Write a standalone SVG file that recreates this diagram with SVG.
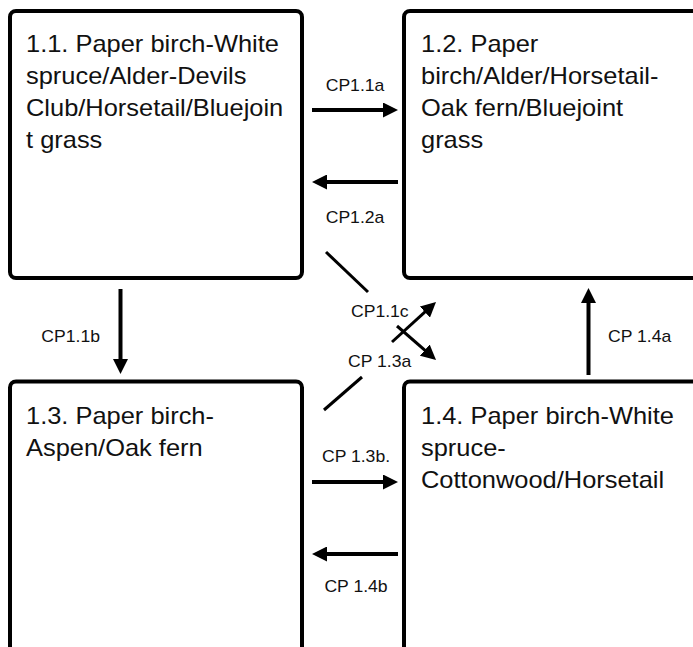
<svg xmlns="http://www.w3.org/2000/svg" width="693" height="647" viewBox="0 0 693 647">
<style>
.box{fill:#fff;stroke:#000;stroke-width:4}
.bt{font-family:"Liberation Sans",Arial,sans-serif;font-size:24px;fill:#111}
.lb{font-family:"Liberation Sans",Arial,sans-serif;font-size:16px;fill:#111}
.cn{stroke:#000;stroke-width:4;fill:none}
.dg{stroke:#000;stroke-width:3;fill:none}
</style>
<defs>
<marker id="ah" viewBox="0 0 15 15" markerWidth="15" markerHeight="15" markerUnits="userSpaceOnUse" refX="5" refY="7.5" orient="auto">
<path d="M0,0 L15,7.5 L0,15 z" fill="#000"/>
</marker>
</defs>
<rect width="693" height="647" fill="#fff"/>
<g id="n11">
<rect class="box" x="10" y="11" width="292" height="267" rx="6"/>
<g transform="translate(26,0) scale(1.06,1)" class="bt">
<text x="0" y="52">1.1. Paper birch-White</text>
<text x="0" y="84">spruce/Alder-Devils</text>
<text x="0" y="116">Club/Horsetail/Bluejoin</text>
<text x="0" y="148">t grass</text>
</g>
</g>
<g id="n12">
<rect class="box" x="404" y="11" width="300" height="267" rx="6"/>
<g transform="translate(421,0) scale(1.06,1)" class="bt">
<text x="0" y="52">1.2. Paper</text>
<text x="0" y="84">birch/Alder/Horsetail-</text>
<text x="0" y="116">Oak fern/Bluejoint</text>
<text x="0" y="148">grass</text>
</g>
</g>
<g id="n13">
<rect class="box" x="10" y="381.5" width="292" height="300" rx="6"/>
<g transform="translate(26,0) scale(1.06,1)" class="bt">
<text x="0" y="424">1.3. Paper birch-</text>
<text x="0" y="456">Aspen/Oak fern</text>
</g>
</g>
<g id="n14">
<rect class="box" x="404" y="381.5" width="300" height="300" rx="6"/>
<g transform="translate(421,0) scale(1.06,1)" class="bt">
<text x="0" y="424">1.4. Paper birch-White</text>
<text x="0" y="456">spruce-</text>
<text x="0" y="488">Cottonwood/Horsetail</text>
</g>
</g>
<g id="connectors">
<line class="cn" x1="312" y1="110" x2="388" y2="110" marker-end="url(#ah)"/>
<line class="cn" x1="398" y1="182" x2="322" y2="182" marker-end="url(#ah)"/>
<line class="cn" x1="312" y1="482" x2="388" y2="482" marker-end="url(#ah)"/>
<line class="cn" x1="398" y1="554" x2="322" y2="554" marker-end="url(#ah)"/>
<line class="cn" x1="120.5" y1="289" x2="120.5" y2="364" marker-end="url(#ah)"/>
<line class="cn" x1="588.5" y1="375" x2="588.5" y2="298" marker-end="url(#ah)"/>
<line class="dg" x1="326" y1="252" x2="368" y2="292"/>
<line class="dg" x1="397" y1="326" x2="428.5" y2="353.4" marker-end="url(#ah)"/>
<line class="dg" x1="324" y1="410" x2="362" y2="377"/>
<line class="dg" x1="392" y1="342" x2="428.6" y2="308.7" marker-end="url(#ah)"/>
<g class="lb">
<text transform="translate(355,91) scale(1.1,1)" text-anchor="middle">CP1.1a</text>
<text transform="translate(355,223) scale(1.1,1)" text-anchor="middle">CP1.2a</text>
<text transform="translate(100,342) scale(1.1,1)" text-anchor="end">CP1.1b</text>
<text transform="translate(608,342) scale(1.1,1)">CP 1.4a</text>
<text transform="translate(351,317) scale(1.1,1)">CP1.1c</text>
<text transform="translate(348,367) scale(1.1,1)">CP 1.3a</text>
<text transform="translate(356,462) scale(1.1,1)" text-anchor="middle">CP 1.3b.</text>
<text transform="translate(356,592) scale(1.1,1)" text-anchor="middle">CP 1.4b</text>
</g>
</g>
</svg>
